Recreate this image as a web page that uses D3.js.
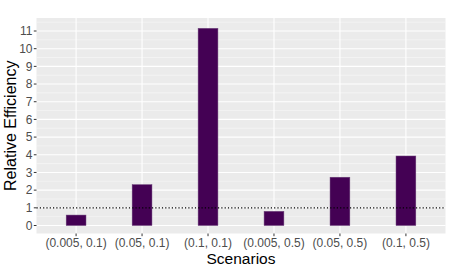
<!DOCTYPE html>
<html lang="en">
<head>
    <meta charset="UTF-8">
    <title>Relative Efficiency</title>
    <script src="https://d3js.org/d3.v7.min.js"></script>
    <style>
        body { margin: 0; background: #fff; }
        text { font-family: "Liberation Sans", Arial, sans-serif; }
    </style>
</head>
<body>
<svg id="viz" width="450" height="270"></svg>

<script>
    // chart data
    var scenarios = ['(0.005, 0.1)', '(0.05, 0.1)', '(0.1, 0.1)',
        '(0.005, 0.5)', '(0.05, 0.5)', '(0.1, 0.5)'];
    var efficiency = [0.59, 2.31, 11.15, 0.80, 2.73, 3.93];
    var yTicks = [0, 1, 2, 3, 4, 5, 6, 7, 8, 9, 10, 11];
    var refLine = 1;

    var svg = d3.select('#viz');

    // panel box
    var panel = {left: 36.5, right: 445.5, top: 18, bottom: 233.5};

    // discrete x positions, ggplot style 0.6 expansion on each side
    var x = d3.scalePoint()
        .domain(scenarios)
        .range([panel.left, panel.right])
        .padding(0.6);
    var unit = x.step();
    function cx(d) {
        return x(d);
    }

    var y = d3.scaleLinear()
        .domain([0, 11])
        .range([225.5, 31]);

    // background
    svg.append('rect')
        .attr('x', panel.left)
        .attr('y', panel.top)
        .attr('width', panel.right - panel.left)
        .attr('height', panel.bottom - panel.top)
        .attr('fill', '#ebebeb');

    // minor grid
    var yMin = y.invert(panel.bottom), yMax = y.invert(panel.top);
    var minor = d3.range(-0.5, 12, 1).filter(function (v) {
        return v > yMin && v < yMax;
    });
    svg.selectAll('.minor')
        .data(minor)
        .enter()
        .append('line')
        .attr('class', 'minor')
        .attr('x1', panel.left)
        .attr('x2', panel.right)
        .attr('y1', function (d) { return y(d); })
        .attr('y2', function (d) { return y(d); })
        .attr('stroke', '#fafafa')
        .attr('stroke-width', 0.55);

    // major grid
    svg.selectAll('.hmajor')
        .data(yTicks)
        .enter()
        .append('line')
        .attr('class', 'hmajor')
        .attr('x1', panel.left)
        .attr('x2', panel.right)
        .attr('y1', function (d) { return y(d); })
        .attr('y2', function (d) { return y(d); })
        .attr('stroke', '#ffffff')
        .attr('stroke-width', 1.1);

    svg.selectAll('.vmajor')
        .data(scenarios)
        .enter()
        .append('line')
        .attr('class', 'vmajor')
        .attr('x1', cx)
        .attr('x2', cx)
        .attr('y1', panel.top)
        .attr('y2', panel.bottom)
        .attr('stroke', '#ffffff')
        .attr('stroke-width', 1.1);

    // bars
    var barW = unit * 0.3;
    svg.selectAll('.bar')
        .data(efficiency)
        .enter()
        .append('rect')
        .attr('class', 'bar')
        .attr('x', function (d, i) { return cx(scenarios[i]) - barW / 2; })
        .attr('y', function (d) { return y(d); })
        .attr('width', barW)
        .attr('height', function (d) { return y(0) - y(d); })
        .attr('fill', '#440154')
        .attr('stroke', '#6a3f78')
        .attr('stroke-width', 0.5);

    // reference line
    svg.append('line')
        .attr('x1', panel.left)
        .attr('x2', panel.right)
        .attr('y1', y(refLine))
        .attr('y2', y(refLine))
        .attr('stroke', '#000')
        .attr('stroke-width', 1.2)
        .attr('stroke-dasharray', '1.2,2.1');

    // y axis ticks and labels
    svg.selectAll('.ytick')
        .data(yTicks)
        .enter()
        .append('line')
        .attr('class', 'ytick')
        .attr('x1', panel.left - 2.7)
        .attr('x2', panel.left)
        .attr('y1', function (d) { return y(d); })
        .attr('y2', function (d) { return y(d); })
        .attr('stroke', '#333')
        .attr('stroke-width', 1);

    svg.selectAll('.ylab')
        .data(yTicks)
        .enter()
        .append('text')
        .attr('class', 'ylab')
        .attr('x', panel.left - 4)
        .attr('y', function (d) { return y(d); })
        .attr('dy', '0.36em')
        .attr('text-anchor', 'end')
        .attr('font-size', '12px')
        .attr('fill', '#4d4d4d')
        .text(function (d) { return d; });

    // x axis ticks and labels
    svg.selectAll('.xtick')
        .data(scenarios)
        .enter()
        .append('line')
        .attr('class', 'xtick')
        .attr('x1', cx)
        .attr('x2', cx)
        .attr('y1', panel.bottom)
        .attr('y2', panel.bottom + 2.7)
        .attr('stroke', '#333')
        .attr('stroke-width', 1);

    svg.selectAll('.xlab')
        .data(scenarios)
        .enter()
        .append('text')
        .attr('class', 'xlab')
        .attr('x', cx)
        .attr('y', panel.bottom + 13.5)
        .attr('text-anchor', 'middle')
        .attr('font-size', '12px')
        .attr('fill', '#4d4d4d')
        .text(function (d) { return d; });

    // axis titles
    svg.append('text')
        .attr('x', (panel.left + panel.right) / 2)
        .attr('y', 264)
        .attr('text-anchor', 'middle')
        .attr('font-size', '15.5px')
        .attr('fill', '#000')
        .text('Scenarios');

    svg.append('text')
        .attr('transform', 'translate(15.5,' + (panel.top + panel.bottom) / 2 + ') rotate(-90)')
        .attr('text-anchor', 'middle')
        .attr('font-size', '16px')
        .attr('fill', '#000')
        .text('Relative Efficiency');
</script>
</body>
</html>
